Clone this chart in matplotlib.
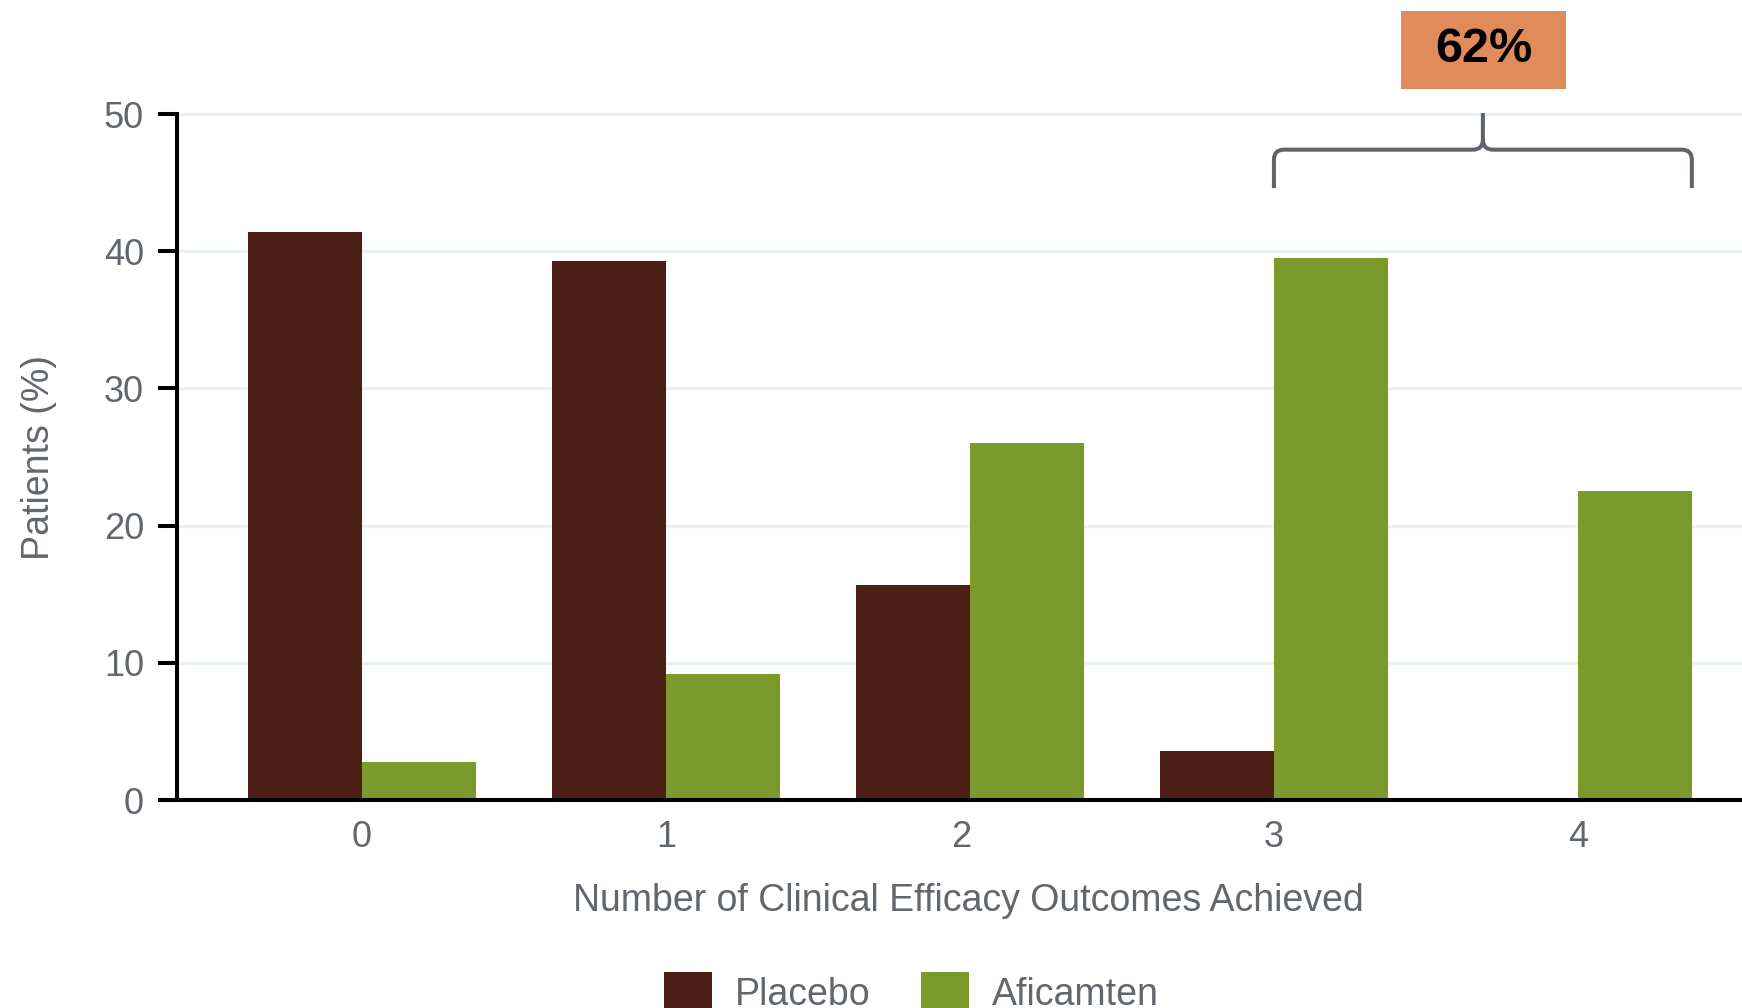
import matplotlib
matplotlib.use("Agg")
import matplotlib.pyplot as plt
import matplotlib.transforms as mtransforms
import numpy as np
from matplotlib.path import Path
from matplotlib.patches import PathPatch, Rectangle, Patch

plt.rcParams['font.family'] = ['Liberation Sans', 'DejaVu Sans']

categories = ["0", "1", "2", "3", "4"]
placebo = [41.4, 39.3, 15.7, 3.6, 0.0]
aficamten = [2.8, 9.2, 26.0, 39.5, 22.5]
series_names = ["Placebo", "Aficamten"]
yticks = [0, 10, 20, 30, 40, 50]
xlabel = "Number of Clinical Efficacy Outcomes Achieved"
ylabel = "Patients (%)"

C_PLA = "#4D1E16"
C_AFI = "#7A9A2C"
C_TXT = "#62666d"
C_GRID = "#E9F1F1"
C_BOX = "#E08B5A"
C_BRACE = "#5f636a"

W, H = 1742, 1008
fig = plt.figure(figsize=(W/100, H/100), dpi=100)
ax = fig.add_axes([177/W, 1-800/H, 1-177/W, (800-114)/H])

x = np.arange(len(categories))
bw = 0.375
ax.bar(x - bw/2, placebo, width=bw, color=C_PLA, zorder=3, linewidth=0)
ax.bar(x + bw/2, aficamten, width=bw, color=C_AFI, zorder=3, linewidth=0)

ax.set_xlim(-0.609, 4.54)
ax.set_ylim(0, 50)
ax.set_yticks(yticks)
ax.set_xticks(x)
ax.set_xticklabels(categories)
for yv in yticks[1:]:
    ax.axhline(yv, color=C_GRID, lw=2.4, zorder=1, clip_on=False)

for s in ["top", "right", "bottom"]:
    ax.spines[s].set_visible(False)
ax.spines["left"].set_linewidth(2.9)
ax.spines["left"].set_color("black")
ax.spines["left"].set_zorder(4)
# x axis line extending past y axis to the left
ax.plot([-19/(W-177), 1.0], [0, 0], transform=ax.transAxes,
        color="black", lw=2.9, clip_on=False, zorder=5, solid_capstyle="butt")

ax.tick_params(axis="y", length=13.7, width=2.9, color="black", labelsize=26,
               labelcolor=C_TXT, pad=10)
ax.tick_params(axis="x", length=0, labelsize=26, labelcolor=C_TXT, pad=14.5)
ax.set_xlabel(xlabel, fontsize=27, color=C_TXT, labelpad=20)
ax.xaxis.label.set_x(0.5 + 9/(W-177))
ax.set_ylabel(ylabel, fontsize=27, color=C_TXT, labelpad=34)

# the reference draws the "2" label slightly left of its category
lbl2 = ax.xaxis.get_major_ticks()[2].label1
lbl2.set_transform(lbl2.get_transform() + mtransforms.ScaledTranslation(-9/100, 0, fig.dpi_scale_trans))

# brace over categories 3 and 4 aficamten bars
x0 = x[3]
x1 = x[4] + bw
xc = (x0 + x1) / 2
yb, yh, yt = 44.6, 47.4, 50.07
rx, ry = 0.033, 0.73
verts = [(x0, yb), (x0, yh - ry), (x0, yh), (x0 + rx, yh), (xc - rx, yh), (xc, yh), (xc, yh + ry), (xc, yt),
         (x1, yb), (x1, yh - ry), (x1, yh), (x1 - rx, yh), (xc + rx, yh), (xc, yh), (xc, yh + ry)]
codes = [Path.MOVETO, Path.LINETO, Path.CURVE3, Path.CURVE3, Path.LINETO, Path.CURVE3, Path.CURVE3, Path.LINETO,
         Path.MOVETO, Path.LINETO, Path.CURVE3, Path.CURVE3, Path.LINETO, Path.CURVE3, Path.CURVE3]
ax.add_patch(PathPatch(Path(verts, codes), facecolor="none", edgecolor=C_BRACE, lw=2.9,
                       clip_on=False, zorder=6, capstyle="butt"))

total = aficamten[3] + aficamten[4]
bx0, bx1, by0, by1 = 1401, 1566, 11, 89
fig.patches.append(Rectangle((bx0/W, 1-by1/H), (bx1-bx0)/W, (by1-by0)/H,
                             transform=fig.transFigure, facecolor=C_BOX, edgecolor="none"))
fig.text((bx0+bx1)/2/W, 1-(by0+by1)/2/H, f"{total:.0f}%", ha="center", va="center",
         fontsize=35, fontweight="bold", color="black")

handles = [Patch(facecolor=C_PLA), Patch(facecolor=C_AFI)]
fig.legend(handles, series_names, loc="upper center", bbox_to_anchor=(911.5/W, 1-972/H),
           ncol=2, frameon=False, fontsize=27, handlelength=1.28, handleheight=1.28,
           handletextpad=0.61, columnspacing=1.36, labelcolor=C_TXT, borderpad=0, borderaxespad=0)

fig.savefig("out.png", dpi=100)
